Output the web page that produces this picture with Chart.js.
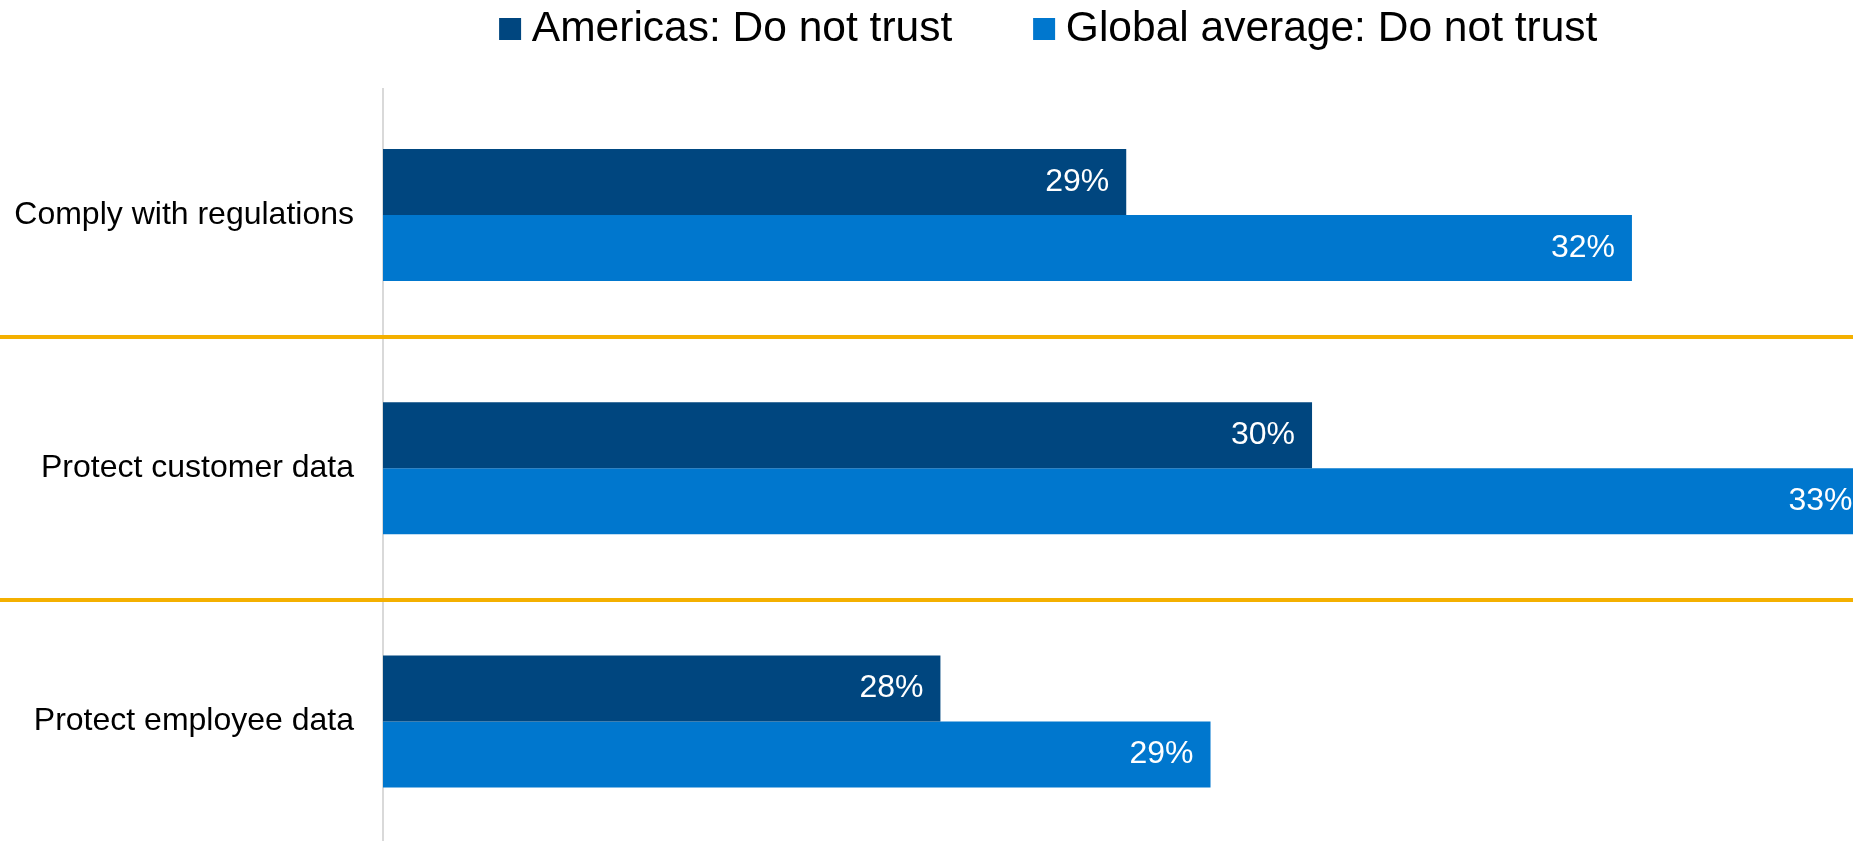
<!DOCTYPE html>
<html>
<head>
<meta charset="utf-8">
<script src="https://cdn.jsdelivr.net/npm/chart.js@4.4.1/dist/chart.umd.min.js"></script>
<style>
html,body{margin:0;padding:0;overflow:hidden;background:#ffffff;width:1853px;height:841px;}
#wrap{position:absolute;left:0;top:0;width:2107px;height:848px;}
</style>
</head>
<body>
<div id="wrap"><canvas id="c" width="2107" height="848"></canvas></div>
<script>
// ---- data ----
const categories = ['Comply with regulations', 'Protect customer data', 'Protect employee data'];
const seriesNames = ['Americas: Do not trust', 'Global average: Do not trust'];
const americas = [28.88, 29.85, 27.91];
const globalAvg = [31.52, 32.76, 29.32];
const axisMin = 25;
const axisMax = 34;

// ---- style ----
const FAMILY = "'Liberation Sans', Arial, Helvetica, sans-serif";
const COL_AMERICAS = '#00467F';
const COL_GLOBAL = '#0077CE';
const COL_SEP = '#F4B000';
const SEP_AT = [0.48, 1.52];

Chart.defaults.font.family = FAMILY;

const separatorPlugin = {
  id: 'separators',
  beforeDatasetsDraw(chart) {
    const ys = chart.scales.y;
    const ctx = chart.ctx;
    ctx.save();
    ctx.strokeStyle = COL_SEP;
    ctx.lineWidth = 4;
    SEP_AT.forEach(v => {
      const py = Math.round(ys.getPixelForValue(v));
      ctx.beginPath();
      ctx.moveTo(0, py);
      ctx.lineTo(chart.width, py);
      ctx.stroke();
    });
    ctx.restore();
  }
};

const valueLabelPlugin = {
  id: 'valueLabels',
  afterDatasetsDraw(chart) {
    const ctx = chart.ctx;
    ctx.save();
    ctx.font = '32px ' + FAMILY;
    ctx.fillStyle = '#ffffff';
    ctx.textAlign = 'right';
    ctx.textBaseline = 'middle';
    chart.data.datasets.forEach((ds, di) => {
      chart.getDatasetMeta(di).data.forEach((bar, i) => {
        ctx.fillText(Math.round(ds.data[i]) + '%', bar.x - 17, bar.y);
      });
    });
    ctx.restore();
  }
};

new Chart(document.getElementById('c'), {
  type: 'bar',
  data: {
    labels: categories,
    datasets: [
      { label: seriesNames[0], data: americas, backgroundColor: COL_AMERICAS, borderWidth: 0 },
      { label: seriesNames[1], data: globalAvg, backgroundColor: COL_GLOBAL, borderWidth: 0 }
    ]
  },
  options: {
    indexAxis: 'y',
    responsive: false,
    animation: false,
    devicePixelRatio: 1,
    categoryPercentage: 0.5214,
    barPercentage: 1,
    layout: { padding: { top: -83.6, left: 0, right: 0, bottom: 0 } },
    plugins: {
      tooltip: { enabled: false },
      legend: {
        display: true,
        position: 'top',
        align: 'center',
        weight: 1000,
        labels: {
          usePointStyle: true,
          pointStyle: 'rect',
          boxWidth: 1,
          boxHeight: 22,
          padding: 91.35,
          color: '#000000',
          font: { size: 42.5, family: FAMILY }
        }
      }
    },
    scales: {
      x: {
        type: 'linear',
        position: 'top',
        min: axisMin,
        max: axisMax,
        grid: { display: false, drawTicks: false },
        border: { display: false },
        ticks: { display: false },
        afterFit(s) { s.height = 28.25; }
      },
      y: {
        type: 'category',
        position: 'left',
        offset: true,
        grid: { display: false, drawTicks: false },
        border: { display: true, color: '#D9D9D9', width: 2 },
        ticks: { color: '#000000', font: { size: 32, family: FAMILY }, padding: 29, crossAlign: 'near' },
        afterFit(s) { s.width = 383; s.paddingTop = 0; s.paddingBottom = 0; }
      }
    }
  },
  plugins: [separatorPlugin, valueLabelPlugin]
});
</script>
</body>
</html>
